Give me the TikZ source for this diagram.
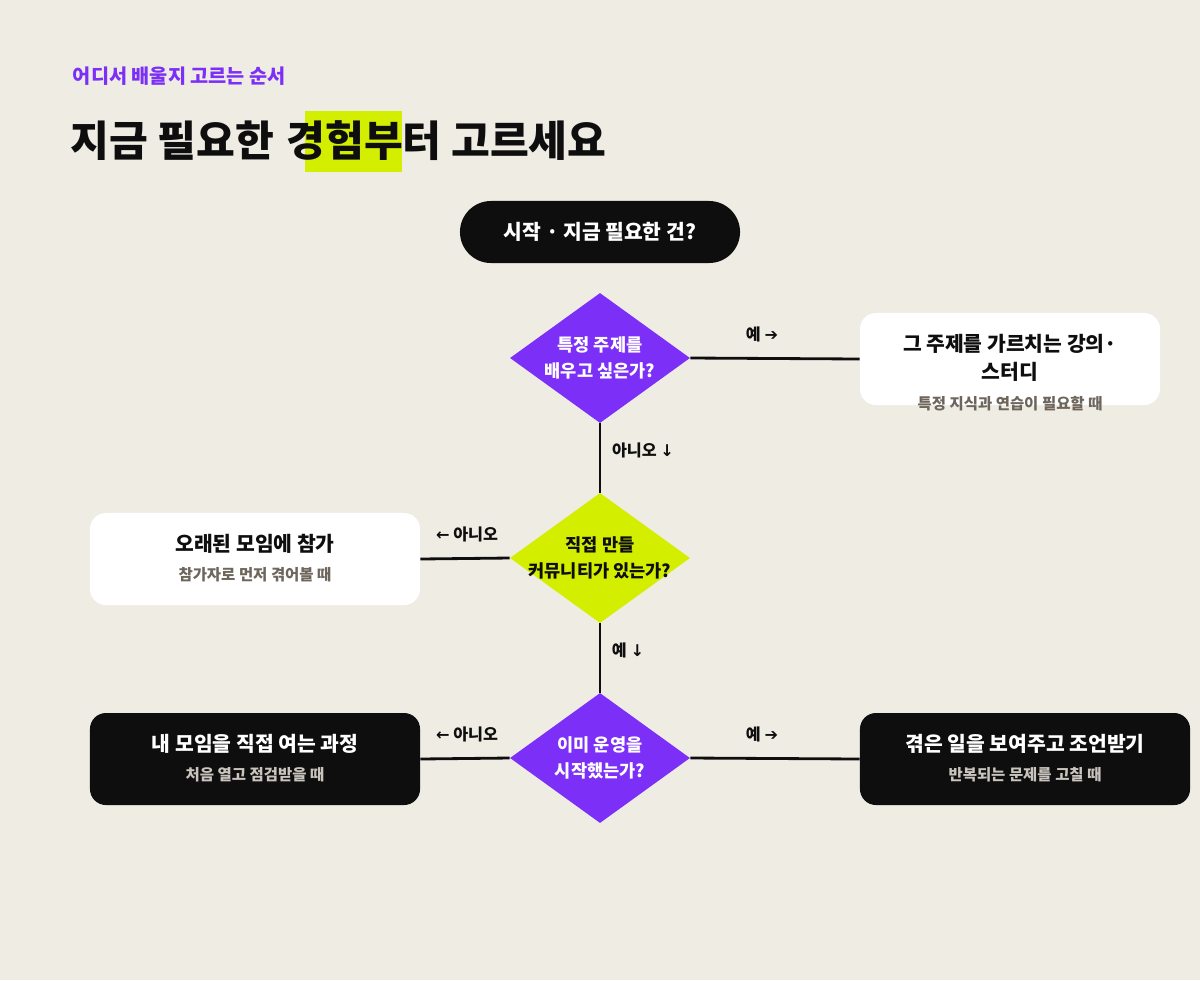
\documentclass[tikz,border=0pt]{standalone}
\usepackage{fontspec}
\setmainfont{Noto Sans CJK KR}
\newfontfamily\arr{DejaVu Sans}
\usetikzlibrary{shapes.geometric, positioning}
\definecolor{bgBeige}{HTML}{EFECE4}
\definecolor{mainPurple}{HTML}{7B2FF7}
\definecolor{mainLime}{HTML}{D4EE00}
\definecolor{mainBlack}{HTML}{0E0E0E}
\definecolor{subGray}{HTML}{6E665C}
\definecolor{subLight}{HTML}{C9C5BE}

\tikzset{
    decision/.style={diamond, minimum width=4.5cm, minimum height=3.25cm, inner sep=0pt},
    card/.style={rounded corners=0.4cm, minimum height=2.3cm},
    wire/.style={line width=2pt, mainBlack},
    tag/.style={font=\fontsize{11.5}{12}\selectfont\bfseries, text=mainBlack},
    headline/.style={font=\fontsize{14.5}{18}\selectfont\bfseries},
    subline/.style={font=\fontsize{11}{13}\selectfont\bfseries}
}

\begin{document}
\begin{tikzpicture}[x=0.025cm, y=-0.025cm]
    \fill[bgBeige] (0,0) rectangle (1200,980);
    \useasboundingbox (0,0) rectangle (1200,980);

    % heading
    \node[anchor=west, text=mainPurple, font=\fontsize{14}{16}\selectfont\bfseries] (sub) at (68,76) {어디서 배울지 고르는 순서};
    \fill[mainLime] (305,111) rectangle (402,172);
    \node[anchor=west, inner sep=0pt, font=\fontsize{30}{34}\selectfont\bfseries, text=mainBlack] (title) at (70,141) {지금 필요한 \hspace{2pt}경험부터 고르세요};

    % start
    \node[fill=mainBlack, rounded corners=0.775cm, minimum width=7cm, minimum height=1.55cm, text=white, font=\fontsize{14.5}{16}\selectfont\bfseries] (start) at (600,232) {시작 · 지금 필요한 건?};

    % decisions
    \node[decision, fill=mainPurple] (topic) at (600,358) {};
    \node[text=white, align=center, subline, font=\fontsize{12.5}{19}\selectfont\bfseries] at (topic) {특정 주제를\\배우고 싶은가?};
    \node[decision, fill=mainLime] (own) at (600,558) {};
    \node[text=mainBlack, align=center, font=\fontsize{12.5}{19}\selectfont\bfseries] at (own) {직접 만들\\커뮤니티가 있는가?};
    \node[decision, fill=mainPurple] (run) at (600,758) {};
    \node[text=white, align=center, font=\fontsize{12.5}{19}\selectfont\bfseries] at (run) {이미 운영을\\시작했는가?};

    % results
    \node[card, fill=white, minimum width=7.5cm] (lecture) at (1010,359) {};
    \node[headline, align=center, text=mainBlack, font=\fontsize{14.5}{20}\selectfont\bfseries] at (1010,358) {그 주제를 가르치는 강의·\\스터디};
    \node[subline, text=subGray] at (1010,404) {특정 지식과 연습이 필요할 때};

    \node[card, fill=white, minimum width=8.25cm] (join) at (255,559) {};
    \node[headline, text=mainBlack] at (255,544) {오래된 모임에 참가};
    \node[subline, text=subGray] at (255,575) {참가자로 먼저 겪어볼 때};

    \node[card, fill=mainBlack, minimum width=8.25cm] (open) at (255,759) {};
    \node[headline, text=white] at (255,744) {내 모임을 직접 여는 과정};
    \node[subline, text=subLight] at (255,775) {처음 열고 점검받을 때};

    \node[card, fill=mainBlack, minimum width=8.25cm] (advice) at (1025,759) {};
    \node[headline, text=white] at (1025,744) {겪은 일을 보여주고 조언받기};
    \node[subline, text=subLight] at (1025,775) {반복되는 문제를 고칠 때};

    % connectors
    \draw[wire] (topic.east) -- (lecture.west);
    \draw[wire] (topic.south) -- (own.north);
    \draw[wire] (own.west) -- (join.east);
    \draw[wire] (own.south) -- (run.north);
    \draw[wire] (run.west) -- (open.east);
    \draw[wire] (run.east) -- (advice.west);

    \node[tag] at (762,334) {예 {\arr ➔}};
    \node[tag] at (643,450) {아니오 {\arr ↓}};
    \node[tag] at (467,534) {{\arr ←} 아니오};
    \node[tag] at (628,650) {예 {\arr ↓}};
    \node[tag] at (467,734) {{\arr ←} 아니오};
    \node[tag] at (762,734) {예 {\arr ➔}};
\end{tikzpicture}
\end{document}
